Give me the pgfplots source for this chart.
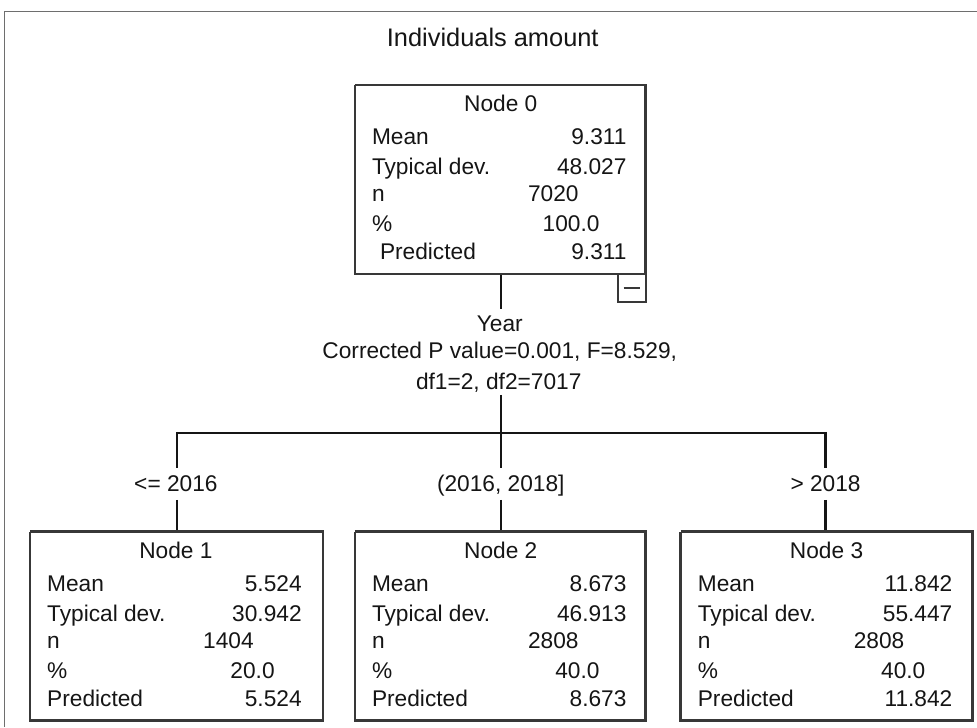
\documentclass[border=0pt]{standalone}
\usepackage{pgfplots}
\pgfplotsset{compat=1.18}
\usepackage{fontspec}
\setmainfont{Liberation Sans}

\definecolor{ink}{HTML}{151515}
\definecolor{frame}{HTML}{6E6E6E}

% text of one node box; #1,#2 = top left corner of the box in pixels
\newcommand{\boxtext}[9]{%
  \begin{scope}[shift={(axis cs:#1,#2)}, x=1bp, y=-1bp,
      every node/.style={inner sep=0pt, text=ink, font=\fontsize{22.8}{26}\selectfont}]
    \node[anchor=base] at (146,27) {#3};
    \node[anchor=base west] at (17,60) {Mean};
    \node[anchor=base east] at (272,60) {#4};
    \node[anchor=base west] at (17,90) {Typical dev.};
    \node[anchor=base east] at (272,90) {#5};
    \node[anchor=base west] at (17,117) {n};
    \node[anchor=base east] at (224,117) {#6};
    \node[anchor=base west] at (17,147) {\%};
    \node[anchor=base east] at (245,147) {#7};
    \node[anchor=base west] at (#9,175) {Predicted};
    \node[anchor=base east] at (272,175) {#8};
  \end{scope}}

\begin{document}
\begin{tikzpicture}[txt/.style={text=ink, font=\fontsize{22.8}{26}\selectfont, anchor=base}]
\begin{axis}[
    width=977bp, height=727bp, scale only axis,
    xmin=0, xmax=977, ymin=0, ymax=727, y dir=reverse,
    axis lines=none, xtick=\empty, ytick=\empty, clip=false,
    tree/.style={ink, line width=2.5pt, mark=none},
    box/.style={ink!85, line width=2.5pt, mark=none, line join=miter},
  ]
  % keep the whole 977x727 area as the picture
  \path (rel axis cs:0,0) rectangle (rel axis cs:1,1);

  % outer frame (cut off at right and bottom)
  \addplot[frame, line width=1pt, mark=none] coordinates {(5,727) (5,12) (977,12)};

  % connecting lines
  \addplot[tree] coordinates {(501,274) (501,309)};
  \addplot[tree] coordinates {(501,395) (501,433)};
  \addplot[tree] coordinates {(177,433) (826,433)};
  \addplot[tree] coordinates {(177,432) (177,468)};
  \addplot[tree] coordinates {(501,432) (501,468)};
  \addplot[tree] coordinates {(826,432) (826,468)};
  \addplot[tree] coordinates {(177,500) (177,532)};
  \addplot[tree] coordinates {(501,500) (501,532)};
  \addplot[tree] coordinates {(826,500) (826,532)};

  % node boxes
  \addplot[box] coordinates {(355,85) (646,85) (646,274) (355,274) (355,85)};
  \addplot[box] coordinates {(30,532) (323,532) (323,721) (30,721) (30,532)};
  \addplot[box] coordinates {(355,532) (646,532) (646,721) (355,721) (355,532)};
  \addplot[box] coordinates {(681,532) (973,532) (973,721) (681,721) (681,532)};
  % collapse button
  \addplot[box, line width=1.8pt] coordinates {(618,274) (618,302) (646,302) (646,274)};
  \addplot[box, line width=2.2pt] coordinates {(624,288) (640,288)};

  % title
  \node[txt, font=\fontsize{25.5}{29}\selectfont] at (axis cs:493,47) {Individuals amount};

  % split description
  \node[txt] at (axis cs:500,332) {Year};
  \node[txt] at (axis cs:500,359) {Corrected P value=0.001, F=8.529,};
  \node[txt] at (axis cs:499,390) {df1=2, df2=7017};

  % branch labels
  \node[txt, fill=white, inner sep=1pt] at (axis cs:176,492) {<= 2016};
  \node[txt, fill=white, inner sep=1pt] at (axis cs:501,492) {(2016, 2018]};
  \node[txt, fill=white, inner sep=1pt] at (axis cs:826,492) {> 2018};

  % box contents
  \boxtext{355}{85}{Node 0}{9.311}{48.027}{7020}{100.0}{9.311}{25}
  \boxtext{30}{532}{Node 1}{5.524}{30.942}{1404}{20.0}{5.524}{17}
  \boxtext{355}{532}{Node 2}{8.673}{46.913}{2808}{40.0}{8.673}{17}
  \boxtext{681}{532}{Node 3}{11.842}{55.447}{2808}{40.0}{11.842}{17}
\end{axis}
\end{tikzpicture}
\end{document}
